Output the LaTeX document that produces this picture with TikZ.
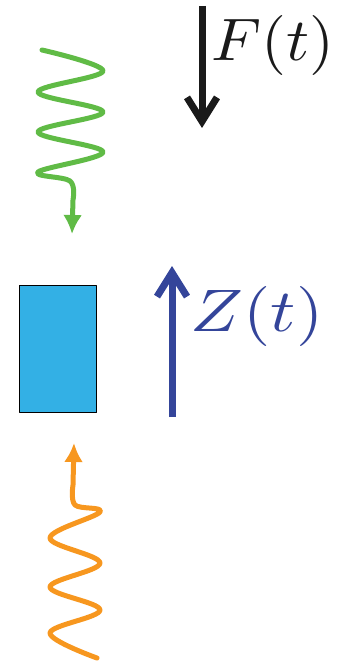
\documentclass[tikz,border=0pt]{standalone}
\usetikzlibrary{arrows.meta,positioning}
\definecolor{wavegreen}{RGB}{96,187,70}
\definecolor{waveorange}{RGB}{247,151,31}
\definecolor{boxblue}{RGB}{51,176,229}
\definecolor{liftblue}{RGB}{52,69,154}
\definecolor{pushblack}{RGB}{26,26,26}
\begin{document}
\begin{tikzpicture}[x=1pt,y=-1pt,line join=round,
  wave/.style={line width=5pt,line cap=round,-{Latex[length=19pt,width=19pt]}},
  force/.style={line width=7pt,-{Straight Barb[length=24pt,width=30pt]}},
  lbl/.style={inner sep=0pt,yscale=6}]
  \useasboundingbox (0,0) rectangle (340,663);
  % the body
  \node[draw=black,line width=1.2pt,fill=boxblue,minimum width=77pt,
    minimum height=127pt,inner sep=0pt] (mass) at (58,349) {};
  % forces
  \coordinate (ftop) at (202,6);
  \coordinate (fbot) at (202,128);
  \draw[force,pushblack] (ftop) -- (fbot);
  \node[lbl,xscale=6.4,text=pushblack] (flabel) at (273,46) {$F(t)$};
  \coordinate (zbot) at (172,417);
  \coordinate (ztop) at (172,266);
  \draw[force,liftblue] (zbot) -- (ztop);
  \node[lbl,xscale=7,text=liftblue] (zlabel) at (257,316) {$Z(t)$};
  % incoming and outgoing waves
  \draw[wave,wavegreen] plot[smooth,tension=0.6] coordinates
    {(42,50) (103,71) (38,92) (103,112) (38,132) (103,152) (38,172)
     (70,181) (73,200)} -- (72,234);
  \draw[wave,waveorange] plot[smooth,tension=0.6] coordinates
    {(97,658) (50,633) (100,610) (50,587) (100,563) (50,538) (100,512)
     (75,505) (73,485)} -- (74,443);
\end{tikzpicture}
\end{document}
